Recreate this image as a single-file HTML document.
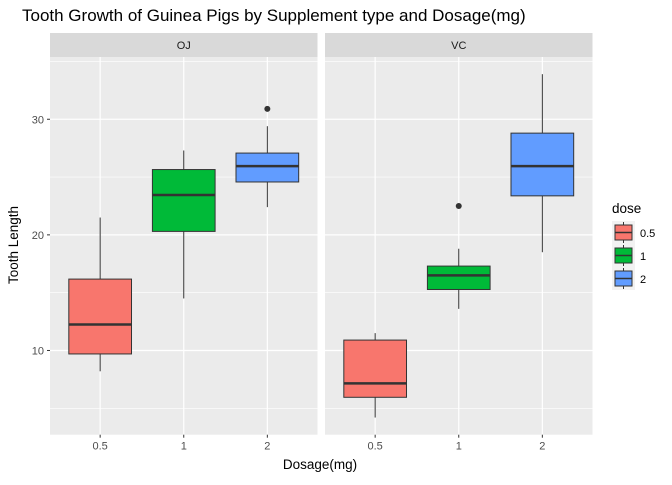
<!DOCTYPE html>
<html><head><meta charset="utf-8"><style>
body{margin:0;background:#fff;font-family:"Liberation Sans",sans-serif}
svg text{font-family:"Liberation Sans",sans-serif}
</style></head><body>
<svg id="c" width="672" height="480" xmlns="http://www.w3.org/2000/svg">
<text x="22" y="21" font-size="17" fill="#000">Tooth Growth of Guinea Pigs by Supplement type and Dosage(mg)</text>
<text x="320" y="469" font-size="13.5" text-anchor="middle" fill="#000">Dosage(mg)</text>
<text transform="translate(18,245) rotate(-90)" font-size="13.5" text-anchor="middle" fill="#000">Tooth Length</text>
<g id="panels"></g>
<g id="legend">
<text x="612" y="213" font-size="13.5">dose</text>
</g>
</svg>
<script>
const supps=["OJ","VC"];
const doses=["0.5","1","2"];
const colors=["#F8766D","#00BA38","#619CFF"];
const yTicks=[10,20,30];
// [min, q1, median, q3, max] per supplement per dose
const ojStats=[[8.2,9.7,12.25,16.175,21.5],[14.5,20.3,23.45,25.65,27.3],[22.4,24.575,25.95,27.075,29.4]];
const vcStats=[[4.2,5.95,7.15,10.9,11.5],[13.6,15.275,16.5,17.3,18.8],[18.5,23.375,25.95,28.8,33.9]];
const ojOutliers=[[],[],[30.9]];
const vcOutliers=[[],[22.5],[]];
const stats=[ojStats,vcStats], outs=[ojOutliers,vcOutliers];
const NS="http://www.w3.org/2000/svg";
const pTop=57,pBot=434.7,ymin=2.715,ymax=35.385;
const y=v=>pBot-(v-ymin)/(ymax-ymin)*(pBot-pTop);
const panelX=[50,325],pw=267.5;
const step=pw/3.2;
function mk(t,a,p){const e=document.createElementNS(NS,t);for(const k in a)e.setAttribute(k,a[k]);p.appendChild(e);return e;}
const P=document.getElementById('panels');
supps.forEach((s,pi)=>{
 const x0=panelX[pi];const x=i=>x0+(i+0.6)*step;
 const g=mk('g',{},P);
 
 
 const strip=mk('rect',{x:x0,y:33,width:pw,height:24,fill:'#D9D9D9'},g);
 
 
 const st=mk('text',{x:x0+pw/2,y:49,'font-size':11,'text-anchor':'middle',fill:'#1A1A1A'},g);st.textContent=s;
 
 
 mk('rect',{x:x0,y:pTop,width:pw,height:pBot-pTop,fill:'#EBEBEB'},g);
 for(let v=5;v<=35;v+=10) mk('line',{x1:x0,x2:x0+pw,y1:y(v),y2:y(v),stroke:'#fff','stroke-width':0.6},g);
 yTicks.forEach(v=>mk('line',{x1:x0,x2:x0+pw,y1:y(v),y2:y(v),stroke:'#fff','stroke-width':1.2},g));
 doses.forEach((d,i)=>{
  mk('line',{x1:x(i),x2:x(i),y1:pTop,y2:pBot,stroke:'#fff','stroke-width':1.2},g);
  mk('line',{x1:x(i),x2:x(i),y1:pBot,y2:pBot+3,stroke:'#333','stroke-width':1},g);
  const t=mk('text',{x:x(i),y:pBot+15,'font-size':11,'text-anchor':'middle',fill:'#4D4D4D'},g);t.textContent=d;
  
  
 });
 doses.forEach((d,i)=>{
  const [mn,q1,md,q3,mx]=stats[pi][i];const bw=step*0.75,cx=x(i);
  const b=mk('g',{},g);
  
  
  mk('line',{x1:cx,x2:cx,y1:y(mx),y2:y(q3),stroke:'#333'},b);
  mk('line',{x1:cx,x2:cx,y1:y(q1),y2:y(mn),stroke:'#333'},b);
  mk('rect',{x:cx-bw/2,y:y(q3),width:bw,height:y(q1)-y(q3),fill:colors[i],stroke:'#333','stroke-width':1},b);
  mk('line',{x1:cx-bw/2,x2:cx+bw/2,y1:y(md),y2:y(md),stroke:'#333','stroke-width':2.5},b);
  outs[pi][i].forEach(o=>{const c=mk('circle',{cx:cx,cy:y(o),r:3,fill:'#333'},b);
   
   });
 });
 if(pi===0){yTicks.forEach(v=>{
  mk('line',{x1:x0-3,x2:x0,y1:y(v),y2:y(v),stroke:'#333'},P);
  const t=mk('text',{x:x0-6,y:y(v)+4,'font-size':11,'text-anchor':'end',fill:'#4D4D4D'},P);t.textContent=v;
  
  
 });}
});
const L=document.getElementById('legend');
doses.forEach((d,i)=>{
 const ky=221+i*23;
 const k=mk('g',{},L);
 
 
 mk('rect',{x:612,y:ky,width:23,height:23,fill:'#F2F2F2'},k);
 mk('line',{x1:623.5,x2:623.5,y1:ky+1,y2:ky+22,stroke:'#333'},k);
 mk('rect',{x:615,y:ky+4,width:17,height:15,fill:colors[i],stroke:'#333'},k);
 mk('line',{x1:615,x2:632,y1:ky+11.5,y2:ky+11.5,stroke:'#333','stroke-width':1.5},k);
 const t=mk('text',{x:640,y:ky+16,'font-size':11,fill:'#000'},k);t.textContent=d;
});
</script>
</body></html>
